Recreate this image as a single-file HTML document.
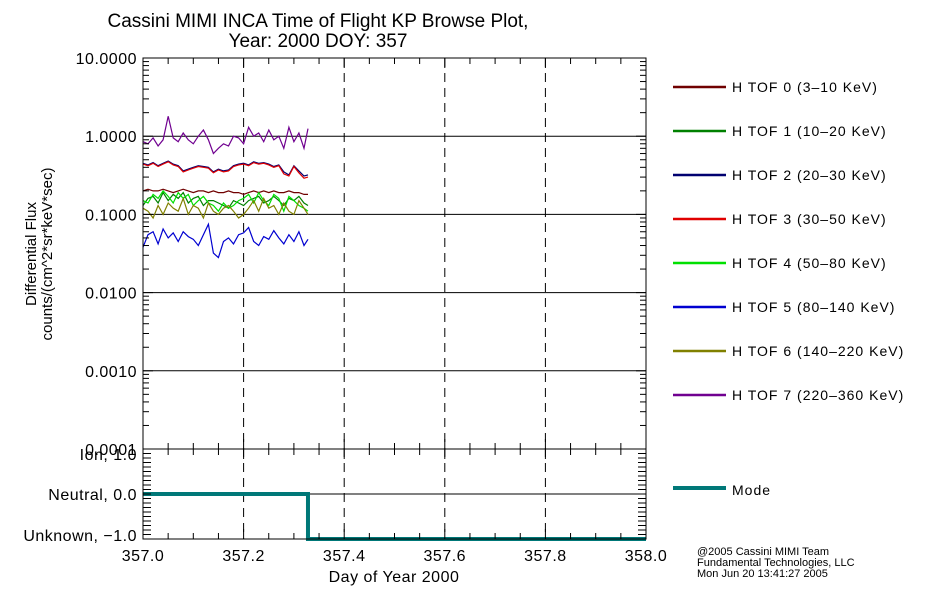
<!DOCTYPE html>
<html><head><meta charset="utf-8"><style>
body{margin:0;background:#fff;}
svg{display:block;font-family:"Liberation Sans",sans-serif;}
</style></head><body>
<svg id="c" width="950" height="600" viewBox="0 0 950 600" xmlns="http://www.w3.org/2000/svg">
<rect width="950" height="600" fill="#fff"/>
<text x="318" y="27" font-size="19" text-anchor="middle">Cassini MIMI INCA Time of Flight KP Browse Plot,</text>
<text x="318" y="47" font-size="19" text-anchor="middle">Year: 2000 DOY: 357</text>
<text transform="translate(36,254) rotate(-90)" font-size="15" text-anchor="middle">Differential Flux</text>
<text transform="translate(52,254) rotate(-90)" font-size="15" text-anchor="middle">counts/(cm^2*sr*keV*sec)</text>
<text x="394" y="582" font-size="16" letter-spacing="0.5" text-anchor="middle">Day of Year 2000</text>
<g id="grid"></g><g id="series"></g><g id="axes"></g><g id="legend"></g>
<text x="697" y="555" font-size="11">@2005 Cassini MIMI Team</text>
<text x="697" y="566" font-size="11">Fundamental Technologies, LLC</text>
<text x="697" y="577" font-size="11">Mon Jun 20 13:41:27 2005</text>
</svg>
<script>
const xTicks=[357.0,357.2,357.4,357.6,357.8,358.0];
const yTicks=[10,1,0.1,0.01,0.001,0.0001];
const yTickLabels=["10.0000","1.0000","0.1000","0.0100","0.0010","0.0001"];
const modeTicks=[1,0,-1];
const modeLabels=["Ion, 1.0","Neutral, 0.0","Unknown, \u22121.0"];
const seriesNames=["H TOF 0 (3\u201310 KeV)","H TOF 1 (10\u201320 KeV)","H TOF 2 (20\u201330 KeV)","H TOF 3 (30\u201350 KeV)","H TOF 4 (50\u201380 KeV)","H TOF 5 (80\u2013140 KeV)","H TOF 6 (140\u2013220 KeV)","H TOF 7 (220\u2013360 KeV)"];
const seriesColors=["#700000","#008000","#000070","#e00000","#00e000","#0000d0","#808000","#700090"];
const times=[357.000,357.010,357.020,357.030,357.040,357.050,357.060,357.070,357.080,357.090,357.100,357.110,357.120,357.130,357.140,357.150,357.160,357.170,357.180,357.190,357.200,357.210,357.220,357.230,357.240,357.250,357.260,357.270,357.280,357.290,357.300,357.310,357.320,357.328];
const tof0=[0.20,0.21,0.20,0.20,0.21,0.20,0.19,0.20,0.21,0.20,0.19,0.20,0.20,0.19,0.20,0.19,0.19,0.20,0.19,0.19,0.18,0.19,0.20,0.19,0.20,0.19,0.20,0.19,0.19,0.20,0.19,0.19,0.18,0.18];
const tof1=[0.13,0.16,0.17,0.14,0.19,0.15,0.18,0.16,0.19,0.14,0.16,0.17,0.13,0.15,0.15,0.14,0.13,0.12,0.15,0.14,0.13,0.15,0.16,0.17,0.14,0.15,0.17,0.15,0.13,0.16,0.15,0.17,0.14,0.13];
const tof2=[0.45,0.43,0.46,0.42,0.45,0.48,0.44,0.42,0.36,0.38,0.40,0.42,0.41,0.40,0.35,0.38,0.36,0.37,0.42,0.44,0.45,0.43,0.47,0.45,0.46,0.44,0.41,0.43,0.35,0.32,0.42,0.36,0.31,0.32];
const tof3=[0.44,0.42,0.45,0.41,0.44,0.47,0.43,0.41,0.35,0.37,0.39,0.41,0.40,0.39,0.34,0.37,0.35,0.36,0.41,0.43,0.44,0.42,0.46,0.44,0.45,0.43,0.40,0.42,0.33,0.31,0.41,0.34,0.29,0.30];
const tof4=[0.15,0.14,0.18,0.16,0.20,0.17,0.14,0.19,0.16,0.18,0.13,0.15,0.17,0.14,0.13,0.11,0.14,0.12,0.13,0.15,0.16,0.18,0.14,0.19,0.15,0.13,0.18,0.16,0.11,0.17,0.15,0.13,0.12,0.11];
const tof5=[0.038,0.055,0.060,0.042,0.065,0.050,0.058,0.045,0.060,0.052,0.048,0.040,0.055,0.075,0.032,0.028,0.045,0.050,0.042,0.055,0.058,0.068,0.045,0.040,0.052,0.048,0.062,0.050,0.042,0.055,0.045,0.060,0.040,0.048];
const tof6=[0.12,0.11,0.09,0.13,0.10,0.14,0.12,0.11,0.16,0.10,0.13,0.12,0.09,0.14,0.11,0.10,0.12,0.13,0.11,0.09,0.10,0.12,0.15,0.11,0.16,0.12,0.13,0.10,0.14,0.11,0.10,0.15,0.12,0.10];
const tof7=[0.85,0.80,0.95,0.75,0.90,1.80,0.95,0.85,1.10,0.90,0.80,1.00,1.20,0.90,0.60,0.70,0.80,0.75,1.00,0.95,0.80,1.30,1.00,1.10,0.85,1.20,0.90,1.00,0.70,1.30,0.85,1.10,0.70,1.25];
const seriesValues=[tof0,tof1,tof2,tof3,tof4,tof5,tof6,tof7];
const modeTimes=[357.0,357.328,357.328,358.0];
const modeValues=[0,0,-1,-1];

const X0=143,X1=646,Y0=58,Y1=449,M0=449,M1=539;
const xs=v=>X0+(v-357)/(1)*(X1-X0);
const ys=v=>Y1-(Math.log10(v)+4)/5*(Y1-Y0);
const ym=v=>M1-(v+1)/2*(M1-M0);
const NS="http://www.w3.org/2000/svg";
function mk(parent,tag,at){const e=document.createElementNS(NS,tag);for(const k in at)e.setAttribute(k,at[k]);document.getElementById(parent).appendChild(e);return e;}
xTicks.slice(1,-1).forEach(t=>{
 const g=mk('grid','line',{x1:xs(t),x2:xs(t),y1:Y0,y2:M1,stroke:'#000','stroke-dasharray':'9,6'});
 
 
});
yTicks.slice(1,-1).forEach(t=>{
 const g=mk('grid','line',{x1:X0,x2:X1,y1:ys(t),y2:ys(t),stroke:'#000'});
 
 
});
{const g=mk('grid','line',{x1:X0,x2:X1,y1:ym(0),y2:ym(0),stroke:'#000'});
 
 }
seriesValues.forEach((vals,i)=>{
 const p=mk('series','polyline',{points:vals.map((v,j)=>xs(times[j]).toFixed(1)+','+ys(v).toFixed(1)).join(' '),fill:'none',stroke:seriesColors[i],'stroke-width':1.2});
 
 
});
{const p=mk('series','polyline',{points:modeValues.map((v,j)=>xs(modeTimes[j])+','+ym(v)).join(' '),fill:'none',stroke:'#007878','stroke-width':4});
 
 }
[[Y0,Y1],[M0,M1]].forEach(([a,b],k)=>{
 const r=mk('axes','rect',{x:X0,y:a,width:X1-X0,height:b-a,fill:'none',stroke:'#000'});
 
 
});
for(let d=-4;d<1;d++){for(let m=1;m<10;m++){const y=ys(m*Math.pow(10,d));const L=m==1?10:6;
 mk('axes','line',{x1:X0,x2:X0+L,y1:y,y2:y,stroke:'#000'});
 mk('axes','line',{x1:X1,x2:X1-L,y1:y,y2:y,stroke:'#000'});}}
yTicks.forEach((t,i)=>{
 const tx=mk('axes','text',{x:137,y:ys(t)+6,'font-size':16,'letter-spacing':0.5,'text-anchor':'end'});
 tx.textContent=yTickLabels[i];
 
 
});
for(let v=-1;v<=1.001;v+=0.1){const y=ym(v);mk('axes','line',{x1:X0,x2:X0+8,y1:y,y2:y,stroke:'#000'});mk('axes','line',{x1:X1,x2:X1-8,y1:y,y2:y,stroke:'#000'});}
modeTicks.forEach((t,i)=>{
 const tx=mk('axes','text',{x:137,y:ym(t)+(i==0?11:(i==2?2:6)),'font-size':16,'letter-spacing':0.5,'text-anchor':'end'});
 tx.textContent=modeLabels[i];
 
 
});
for(let v=357;v<=358.001;v+=0.05){const x=xs(v);const L=Math.abs(v*5-Math.round(v*5))<0.01?10:6;
 [Y1,M1].forEach(yb=>mk('axes','line',{x1:x,x2:x,y1:yb,y2:yb-L,stroke:'#000'}));
 [Y0,M0].forEach(yt=>mk('axes','line',{x1:x,x2:x,y1:yt,y2:yt+L,stroke:'#000'}));}
xTicks.forEach(t=>{
 const tx=mk('axes','text',{x:xs(t),y:561,'font-size':16,'letter-spacing':0.5,'text-anchor':'middle'});
 tx.textContent=t.toFixed(1);
 
 
});
seriesNames.forEach((n,i)=>{
 const y=87+i*44;
 const l=mk('legend','line',{x1:673,x2:726,y1:y,y2:y,stroke:seriesColors[i],'stroke-width':2.5});
 
 
 const tx=mk('legend','text',{x:732,y:y+5,'font-size':14,'letter-spacing':1});
 tx.textContent=n;
 
 
});
{const l=mk('legend','line',{x1:673,x2:726,y1:488,y2:488,stroke:'#007878','stroke-width':4});
 
 
 const tx=mk('legend','text',{x:732,y:495,'font-size':14,'letter-spacing':1});
 tx.textContent='Mode';
 
 }
</script>
</body></html>
